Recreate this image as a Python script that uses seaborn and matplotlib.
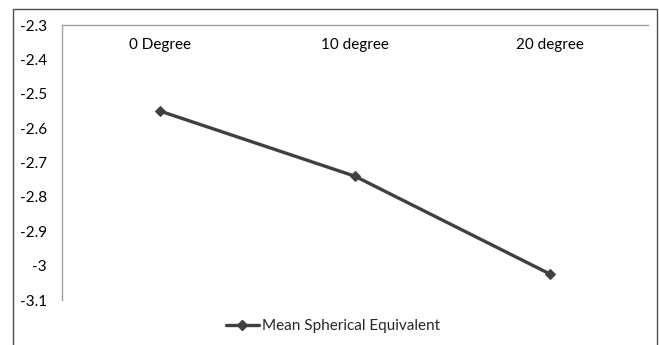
import matplotlib
matplotlib.use("Agg")
import matplotlib.pyplot as plt
import seaborn as sns
import pandas as pd
from matplotlib.patches import Rectangle
from matplotlib.lines import Line2D

categories = ["0 Degree", "10 degree", "20 degree"]
values = [-2.55, -2.74, -3.025]
series_name = "Mean Spherical Equivalent"
yticks = [-2.3, -2.4, -2.5, -2.6, -2.7, -2.8, -2.9, -3.0, -3.1]
ytick_labels = ["-2.3", "-2.4", "-2.5", "-2.6", "-2.7", "-2.8", "-2.9", "-3", "-3.1"]

sns.set_style("white")
plt.rcParams["font.family"] = ["Lato", "DejaVu Sans"]

W, H = 659, 345
fig = plt.figure(figsize=(W / 100, H / 100), dpi=100)
ax = fig.add_axes([62 / W, 1 - 300 / H, (648 - 62) / W, (300 - 25) / H])

df = pd.DataFrame({"cat": categories, "val": values})
line_color = "#404040"
sns.lineplot(data=df, x="cat", y="val", ax=ax, color=line_color, linewidth=2.4,
             marker="D", markersize=5, markeredgecolor=line_color, sort=False)

ax.set_xlim(-0.5, len(categories) - 0.5)
ax.set_ylim(-3.1, -2.3)
ax.set_yticks(yticks)
ax.set_yticklabels(ytick_labels, fontsize=11, color="#000000")
ax.set_xlabel("")
ax.set_ylabel("")

ax.xaxis.set_ticks_position("top")
ax.tick_params(axis="x", top=False, bottom=False, labeltop=True, labelbottom=False,
               pad=-13, labelsize=11, labelcolor="#000000")
ax.tick_params(axis="y", left=False, length=0, pad=11)
for lbl in ax.get_xticklabels():
    lbl.set_verticalalignment("top")

for s in ["right", "bottom"]:
    ax.spines[s].set_visible(False)
for s in ["left", "top"]:
    ax.spines[s].set_color("#a0a0a0")
    ax.spines[s].set_linewidth(1.0)
ax.grid(False)

# outer chart border
fig.patches.append(Rectangle((13 / W, -0.05), (657 - 13) / W, 1 - 9 / H + 0.05,
                             transform=fig.transFigure, fill=False,
                             edgecolor="#505050", linewidth=1.0))

handle = Line2D([], [], color=line_color, linewidth=2.4, marker="D", markersize=5)
fig.legend([handle], [series_name], loc="center", bbox_to_anchor=(333 / W, 1 - 326 / H),
           frameon=False, fontsize=11, handlelength=2.2, handletextpad=0.2)

fig.savefig("out.png", dpi=100)
